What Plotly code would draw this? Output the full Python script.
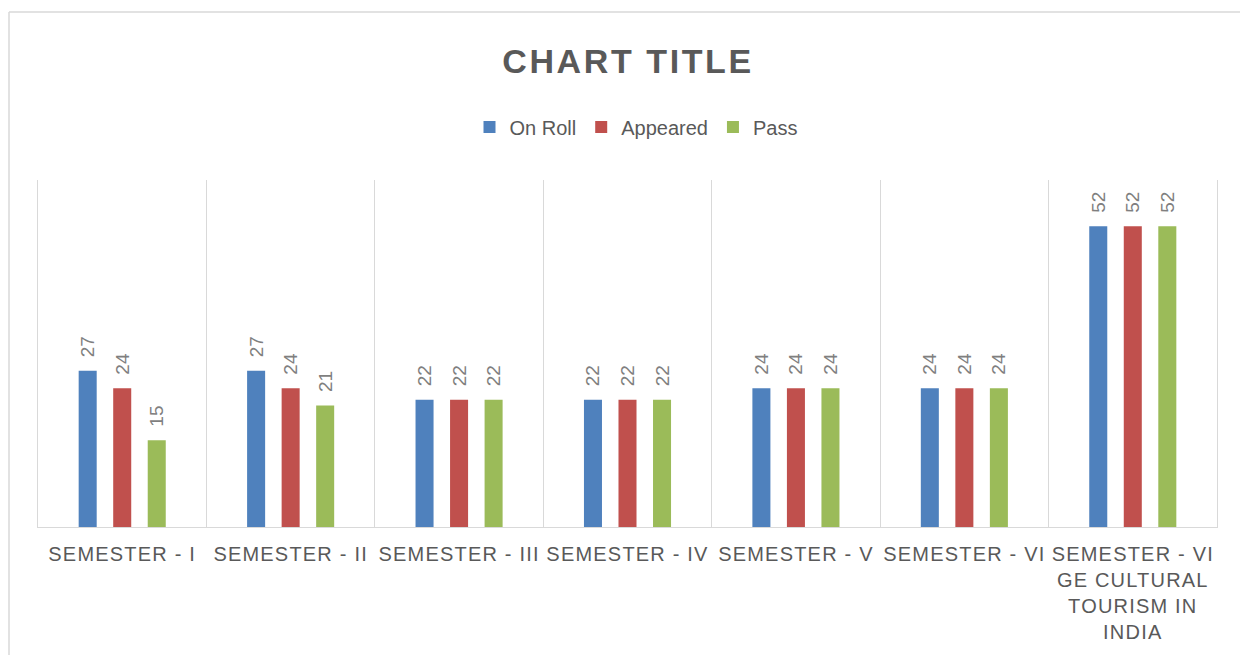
import plotly.graph_objects as go

categories = ["SEMESTER - I", "SEMESTER - II", "SEMESTER - III", "SEMESTER - IV",
              "SEMESTER - V", "SEMESTER - VI", "SEMESTER - VI GE CULTURAL TOURISM IN INDIA"]
tick_labels = ["SEMESTER - I", "SEMESTER - II", "SEMESTER - III", "SEMESTER - IV",
               "SEMESTER - V", "SEMESTER - VI", "SEMESTER - VI<br>GE CULTURAL<br>TOURISM IN<br>INDIA"]
on_roll = [27, 27, 22, 22, 24, 24, 52]
appeared = [24, 24, 22, 22, 24, 24, 52]
passed = [15, 21, 22, 22, 24, 24, 52]

series = [("On Roll", on_roll, "#4F81BD"),
          ("Appeared", appeared, "#C0504D"),
          ("Pass", passed, "#9BBB59")]

FONT = "Liberation Sans, Arial, sans-serif"
TXT = "#595959"

fig = go.Figure()
for name, vals, col in series:
    fig.add_trace(go.Bar(
        x=categories, y=vals, name=name,
        marker=dict(color=col, line=dict(width=0)),
        text=vals,
        texttemplate="\u00a0\u00a0%{text}",
        textposition="outside",
        textangle=-90,
        constraintext="none",
        textfont=dict(size=19, color="#7F7F7F", family=FONT),
        cliponaxis=False,
    ))

def spaced(s, sp):
    return "<br>".join(f'<span style="letter-spacing:{sp}px">{line}</span>' for line in s.split("<br>"))

fig.update_layout(
    width=1240, height=655,
    paper_bgcolor="white", plot_bgcolor="white",
    margin=dict(l=38, r=23, t=180, b=128, pad=0, autoexpand=False),
    barmode="group", bargap=0.385, bargroupgap=0.478,
    font=dict(family=FONT, color=TXT),
    title=dict(text=spaced("<b>CHART TITLE</b>", 2.6), x=628 / 1240, xanchor="center",
               y=1 - 61 / 655, yanchor="middle",
               font=dict(size=34, color=TXT, family=FONT)),
    legend=dict(orientation="h", x=(636 - 38) / 1179, xanchor="center", y=(527 - 127) / 347,
                yanchor="middle", font=dict(size=20, color=TXT, family=FONT),
                itemclick=False, traceorder="normal"),
    showlegend=True,
    xaxis=dict(
        type="category",
        tickmode="array", tickvals=categories,
        ticktext=[spaced(t, 1.2) for t in tick_labels],
        tickangle=0, automargin=False,
        tickson="boundaries", ticks="",
        ticklabelstandoff=9,
        showgrid=True, gridcolor="#D9D9D9", gridwidth=1.3,
        showline=True, linecolor="#D9D9D9", linewidth=1.3,
        tickfont=dict(size=20, color=TXT, family=FONT),
        fixedrange=True,
    ),
    yaxis=dict(range=[0, 60], showgrid=False, showticklabels=False, zeroline=False,
               showline=True, mirror=True, linecolor="#D9D9D9", linewidth=1.3,
               ticks="", fixedrange=True, automargin=False),
)

# outer chart frame (top and left edges visible in reference)
x0 = (9 - 38) / 1179
ytop = (527 - 12) / 347
ybot = (527 - 660) / 347
fig.add_shape(type="line", xref="paper", yref="paper", x0=x0, x1=1.1, y0=ytop, y1=ytop,
              line=dict(color="#D9D9D9", width=1.5))
fig.add_shape(type="line", xref="paper", yref="paper", x0=x0, x1=x0, y0=ytop, y1=ybot,
              line=dict(color="#D9D9D9", width=1.5))

fig.write_html("out.html", config={"displayModeBar": False},
               post_script="document.body.style.margin='0';document.body.style.overflow='hidden';")
